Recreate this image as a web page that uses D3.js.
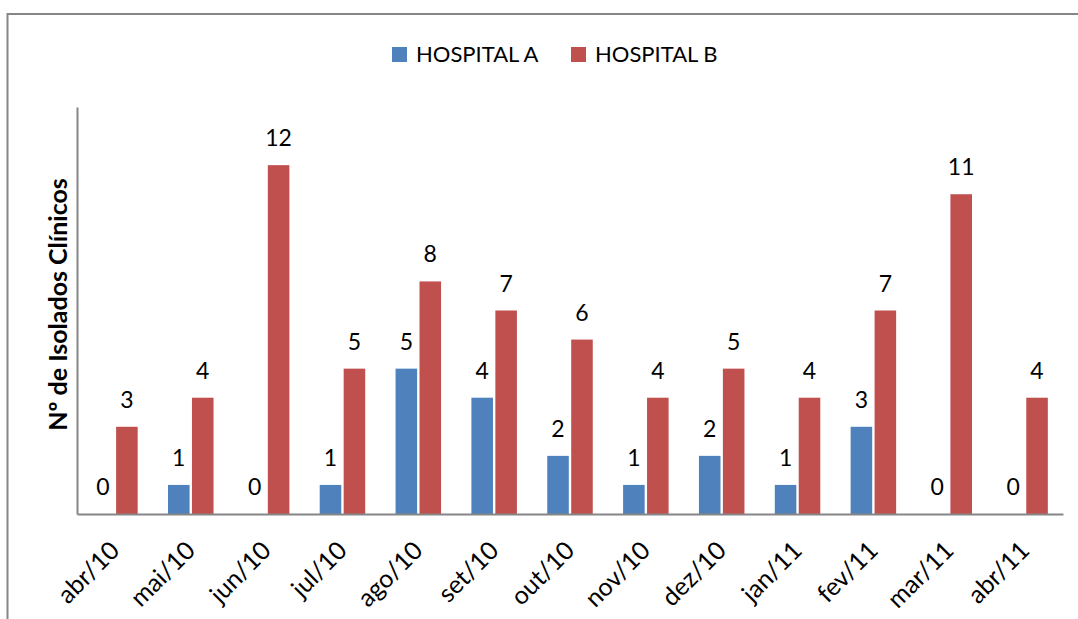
<!DOCTYPE html>
<html>
<head>
<meta charset="utf-8">
<script src="https://cdn.jsdelivr.net/npm/d3@7"></script>
<style>
  body { margin: 0; background: #fff; }
  text { font-family: Lato, "Open Sans", sans-serif; fill: #000; }
</style>
</head>
<body>
<div id="chart"></div>
<script>
// data
let months = ["abr/10", "mai/10", "jun/10", "jul/10", "ago/10", "set/10", "out/10",
    "nov/10", "dez/10", "jan/11", "fev/11", "mar/11", "abr/11"];
let hospitalA = [0, 1, 0, 1, 5, 4, 2, 1, 2, 1, 3, 0, 0];
let hospitalB = [3, 4, 12, 5, 8, 7, 6, 4, 5, 4, 7, 11, 4];
let seriesNames = ["HOSPITAL A", "HOSPITAL B"];
let seriesColors = ["#4F81BD", "#C0504D"];

let width = 1078, height = 619;
let margin = { left: 77, right: 15, top: 107, bottom: 105 };

let svg = d3.select("#chart")
    .append("svg")
    .attr("width", width)
    .attr("height", height);

// outer frame (only top and left edges show)
svg.append("path")
    .attr("d", `M7.5,${height} L7.5,14 L${width},14`)
    .attr("fill", "none")
    .attr("stroke", "#868686")
    .attr("stroke-width", 2);

let x0 = d3.scaleBand()
    .domain(months)
    .range([margin.left, width - margin.right])
    .paddingInner(0.4)
    .paddingOuter(0.2);

let x1 = d3.scaleBand()
    .domain(seriesNames)
    .range([0, x0.bandwidth()])
    .paddingInner(0.1);

let y = d3.scaleLinear()
    .domain([0, 14])
    .range([height - margin.bottom, margin.top]);

let rows = months.map((m, i) => ({
    month: m,
    values: [
        { name: seriesNames[0], value: hospitalA[i], color: seriesColors[0] },
        { name: seriesNames[1], value: hospitalB[i], color: seriesColors[1] }
    ]
}));

let groups = svg.append("g")
    .selectAll("g")
    .data(rows)
    .enter()
    .append("g")
    .attr("transform", d => `translate(${x0(d.month)},0)`);

groups.selectAll("rect")
    .data(d => d.values)
    .enter()
    .append("rect")
    .attr("x", d => x1(d.name))
    .attr("y", d => y(d.value))
    .attr("width", x1.bandwidth())
    .attr("height", d => y(0) - y(d.value))
    .attr("fill", d => d.color);

groups.selectAll("text")
    .data(d => d.values)
    .enter()
    .append("text")
    .attr("x", d => x1(d.name) + x1.bandwidth() / 2)
    .attr("y", d => y(d.value) - 19)
    .style("text-anchor", "middle")
    .style("font-size", "23px")
    .text(d => d.value);

// axes
svg.append("g")
    .attr("transform", `translate(${margin.left},0)`)
    .call(d3.axisLeft(y).tickValues([]).tickSizeOuter(0))
    .select(".domain")
    .attr("stroke", "#868686")
    .attr("stroke-width", 2);

let xAxis = svg.append("g")
    .attr("transform", `translate(0,${y(0)})`)
    .call(d3.axisBottom(x0).tickSize(0).tickPadding(0));
xAxis.select(".domain")
    .attr("stroke", "#868686")
    .attr("stroke-width", 2);
xAxis.selectAll("text")
    .style("font-size", "25px")
    .style("font-family", "Lato, 'Open Sans', sans-serif")
    .style("text-anchor", "end")
    .attr("dy", 0)
    .attr("y", 0)
    .attr("transform", "translate(6,38) rotate(-45)");

// y axis title
svg.append("text")
    .attr("transform", `translate(67,${(margin.top + y(0)) / 2 - 6}) rotate(-90)`)
    .style("text-anchor", "middle")
    .style("font-size", "25px")
    .style("font-weight", "bold")
    .text("Nº de Isolados Clínicos");

// legend
let legendX = [392, 571];
let legend = svg.append("g")
    .selectAll("g")
    .data(seriesNames)
    .enter()
    .append("g")
    .attr("transform", (d, i) => `translate(${legendX[i]},47)`);
legend.append("rect")
    .attr("width", 15)
    .attr("height", 15)
    .attr("fill", (d, i) => seriesColors[i]);
legend.append("text")
    .attr("x", 24)
    .attr("y", 15)
    .style("font-size", "22px")
    .text(d => d);
</script>
</body>
</html>
